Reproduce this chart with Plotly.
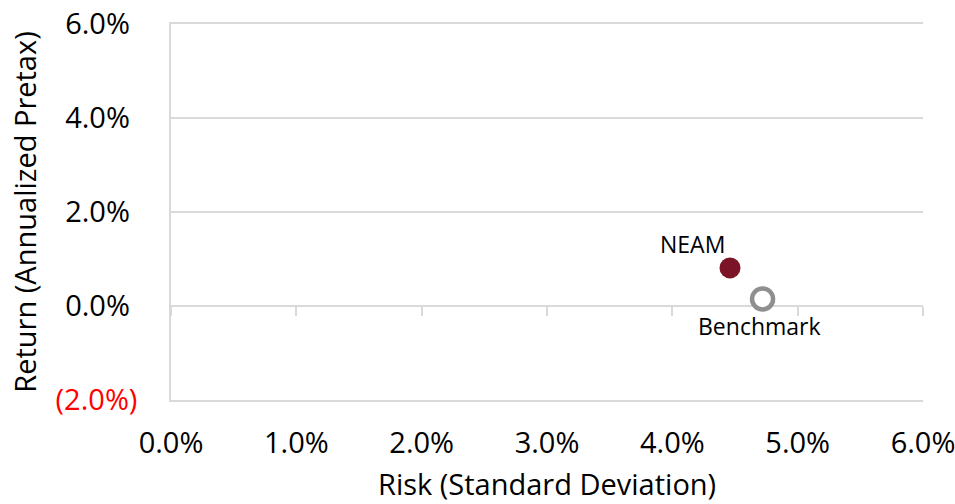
import plotly.graph_objects as go

# Risk / return figures (percent)
names = ["NEAM", "Benchmark"]
risk = [4.46, 4.72]
ret = [0.81, 0.15]

x_ticks = [0, 1, 2, 3, 4, 5, 6]
x_tick_labels = ["0.0%", "1.0%", "2.0%", "3.0%", "4.0%", "5.0%", "6.0%"]
y_ticks = [-2, 0, 2, 4, 6]
y_tick_labels = ["<span style='color:#FF0000'>(2.0%)</span>",
                 "0.0%\u00a0", "2.0%\u00a0", "4.0%\u00a0", "6.0%\u00a0"]
x_title = "Risk (Standard Deviation)"
y_title = "Return (Annualized Pretax)"

FONT = "Open Sans"
GRID = "#D9D9D9"

fig = go.Figure()

fig.add_trace(go.Scatter(
    x=[risk[0]], y=[ret[0]], mode="markers", name=names[0],
    marker=dict(size=21, color="#7A1426", line=dict(width=0)),
    showlegend=False, hoverinfo="skip",
))
fig.add_trace(go.Scatter(
    x=[risk[1]], y=[ret[1]], mode="markers", name=names[1],
    marker=dict(size=21, color="white", line=dict(width=4.5, color="#8F8F8F")),
    showlegend=False, hoverinfo="skip",
))
# helper trace so the zero-line tick axis gets drawn
fig.add_trace(go.Scatter(x=[None], y=[None], xaxis="x2", yaxis="y",
                         showlegend=False, hoverinfo="skip"))

fig.add_annotation(x=risk[0], y=ret[0], text=names[0], showarrow=False,
                   xanchor="center", yanchor="middle", xshift=-37, yshift=24,
                   font=dict(family=FONT, size=23, color="#000000"))
fig.add_annotation(x=risk[1], y=ret[1], text=names[1], showarrow=False,
                   xanchor="center", yanchor="middle", xshift=-3, yshift=-27,
                   font=dict(family=FONT, size=23, color="#000000"))

# horizontal axis title, set below the tick labels
fig.add_annotation(xref="paper", yref="paper", x=0.5, y=0, text=x_title,
                   showarrow=False, xanchor="center", yanchor="middle",
                   yshift=-83, font=dict(family=FONT, size=29, color="#000000"))

fig.update_layout(
    width=955, height=504,
    margin=dict(l=171, r=32, t=24, b=104),
    paper_bgcolor="white", plot_bgcolor="white",
    font=dict(family=FONT, color="#000000"),
    xaxis=dict(
        range=[0, 6], tickvals=x_ticks, ticktext=x_tick_labels,
        automargin=False, ticklabeloverflow="allow",
        showgrid=False, zeroline=False,
        showline=True, mirror=True, linecolor=GRID, linewidth=1.5,
        ticks="outside", ticklen=16, tickcolor="rgba(0,0,0,0)",
        tickfont=dict(family=FONT, size=29),
    ),
    xaxis2=dict(
        range=[0, 6], tickvals=x_ticks, overlaying="x", anchor="free",
        position=0.25, side="bottom", showgrid=False, zeroline=False,
        showline=False, showticklabels=False, automargin=False,
        ticks="outside", ticklen=9, tickwidth=1.5, tickcolor=GRID,
    ),
    yaxis=dict(
        range=[-2, 6], tickvals=y_ticks, ticktext=y_tick_labels,
        automargin=False, ticklabeloverflow="allow",
        showgrid=True, gridcolor=GRID, gridwidth=1.5,
        zeroline=True, zerolinecolor=GRID, zerolinewidth=1.5,
        showline=True, linecolor=GRID, linewidth=1.5,
        ticks="outside", ticklen=26, tickcolor="rgba(0,0,0,0)",
        tickfont=dict(family=FONT, size=29),
        title=dict(text=y_title, standoff=10,
                   font=dict(family=FONT, size=29)),
    ),
)

fig.write_html("out.html")
